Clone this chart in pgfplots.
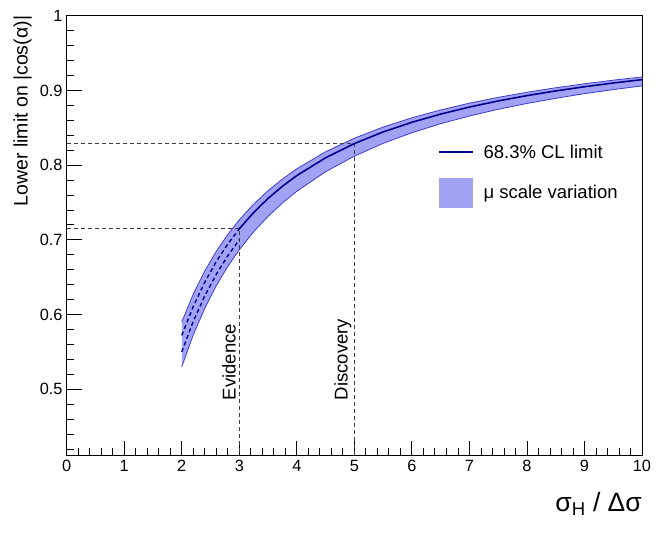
\documentclass[border=0pt]{standalone}
\usepackage{fontspec}
\setmainfont{Liberation Sans}
\usepackage{pgfplots}
\pgfplotsset{compat=1.18}
\definecolor{bandfill}{RGB}{162,162,245}
\definecolor{bandedge}{RGB}{60,60,210}
\definecolor{cline}{RGB}{0,0,140}
\definecolor{refgray}{RGB}{60,60,60}
\pgfplotsset{
  mylineleg/.style={legend image code/.code={\draw[draw=cline, line width=1.6pt, solid] (0pt,0pt) -- (34pt,0pt);}},
  myboxleg/.style={legend image code/.code={\path[fill=bandfill, draw=none] (0pt,-15pt) rectangle (34pt,15pt);}},
}
\begin{document}
\begin{tikzpicture}
\begin{axis}[
  scale only axis, width=575.3pt, height=440pt,
  at={(0,0)}, anchor=south west,
  xmin=0, xmax=10, ymin=0.411, ymax=1,
  xtick={0,1,2,3,4,5,6,7,8,9,10},
  ytick={0.5,0.6,0.7,0.8,0.9,1},
  minor xtick={0.2,0.4,...,9.9},
  minor ytick={0.42,0.44,...,0.99},
  tick pos=left, tick align=inside,
  major tick length=15pt, minor tick length=7.5pt,
  tick style={black, line width=0.8pt},
  axis line style={line width=0.8pt},
  /pgf/number format/assume math mode=true,
  yticklabel style={/pgf/number format/fixed, /pgf/number format/precision=1,
    font=\fontsize{16.3}{19}\selectfont, inner sep=0pt, xshift=-4pt},
  xticklabel style={font=\fontsize{16.3}{19}\selectfont, inner sep=0pt, yshift=-4pt},
  xlabel={σ\textsubscript{H} / Δσ},
  ylabel={Lower limit on |cos(α)|},
  every axis x label/.style={at={(axis description cs:1,-0.11)}, anchor=east,
    font=\fontsize{26.5}{29}\selectfont, inner sep=0pt},
  every axis y label/.style={at={(axis description cs:-0.0765,1)}, rotate=90, anchor=east,
    font=\fontsize{19.5}{22}\selectfont, inner sep=0pt},
  legend style={at={(axis description cs:0.645,0.712)}, anchor=north west,
    draw=none, fill=none, font=\fontsize{18.5}{22}\selectfont,
    row sep=16pt, inner sep=0pt, cells={anchor=west},
    /tikz/every even column/.append style={column sep=0pt}},
]
% band
\addplot[fill=bandfill, draw=none, forget plot] coordinates {
 (2,0.590) (2.2,0.6273) (2.4,0.6583) (2.6,0.6846) (2.8,0.7071) (3,0.7267)
 (3.25,0.7477) (3.5,0.7657) (3.75,0.7813) (4,0.795) (4.5,0.8178) (5,0.836)
 (5.5,0.8509) (6,0.8633) (6.5,0.8738) (7,0.8829) (7.5,0.8907) (8,0.8975)
 (8.5,0.9035) (9,0.9089) (9.5,0.9137) (10,0.918)
 (10,0.906) (9.5,0.9011) (9,0.8956) (8.5,0.8894) (8,0.8825) (7.5,0.8747)
 (7,0.8657) (6.5,0.8554) (6,0.8433) (5.5,0.8291) (5,0.812) (4.5,0.7911)
 (4,0.765) (3.75,0.7493) (3.5,0.7314) (3.25,0.7108) (3,0.6867) (2.8,0.6643)
 (2.6,0.6385) (2.4,0.6083) (2.2,0.5727) (2,0.530)
} -- cycle;
% band edges
\addplot[bandedge, line width=0.8pt, forget plot] coordinates {
 (2,0.590) (2.2,0.6273) (2.4,0.6583) (2.6,0.6846) (2.8,0.7071) (3,0.7267)
 (3.25,0.7477) (3.5,0.7657) (3.75,0.7813) (4,0.795) (4.5,0.8178) (5,0.836)
 (5.5,0.8509) (6,0.8633) (6.5,0.8738) (7,0.8829) (7.5,0.8907) (8,0.8975)
 (8.5,0.9035) (9,0.9089) (9.5,0.9137) (10,0.918)};
\addplot[bandedge, line width=0.8pt, forget plot] coordinates {
 (2,0.530) (2.2,0.5727) (2.4,0.6083) (2.6,0.6385) (2.8,0.6643) (3,0.6867)
 (3.25,0.7108) (3.5,0.7314) (3.75,0.7493) (4,0.765) (4.5,0.7911) (5,0.812)
 (5.5,0.8291) (6,0.8433) (6.5,0.8554) (7,0.8657) (7.5,0.8747) (8,0.8825)
 (8.5,0.8894) (9,0.8956) (9.5,0.9011) (10,0.906)};
% reference lines
\addplot[refgray, dash pattern=on 4pt off 3pt, line width=0.8pt, forget plot]
 coordinates {(0,0.7147) (3,0.7147) (3,0.411)};
\addplot[refgray, dash pattern=on 4pt off 3pt, line width=0.8pt, forget plot]
 coordinates {(0,0.8288) (5,0.8288) (5,0.411)};
% dashed parts
\addplot[cline, dash pattern=on 4pt off 3pt, line width=1.4pt, forget plot] coordinates {
 (2,0.572) (2.2,0.6109) (2.4,0.6433) (2.6,0.6708) (2.8,0.6943) (3,0.7147)};
\addplot[cline, dash pattern=on 4pt off 3pt, line width=1.4pt, forget plot] coordinates {
 (2,0.55) (2.2,0.5909) (2.4,0.625) (2.6,0.6538) (2.8,0.6786) (3,0.70)};
% central limit
\addplot[cline, line width=1.6pt, forget plot] coordinates {
 (3,0.7147) (3.25,0.7366) (3.5,0.7554) (3.75,0.7717) (4,0.786) (4.5,0.8098)
 (5,0.8288) (5.5,0.8444) (6,0.8573) (6.5,0.8683) (7,0.8777) (7.5,0.8859)
 (8,0.893) (8.5,0.8993) (9,0.9049) (9.5,0.9099) (10,0.9144)};
\addlegendimage{mylineleg}
\addlegendentry{\hspace{8pt}68.3\% CL limit}
\addlegendimage{myboxleg}
\addlegendentry{\hspace{8pt}μ scale variation}
\node[rotate=90, anchor=west, inner sep=0pt, font=\fontsize{18.5}{22}\selectfont]
  at (axis cs:2.82,0.485) {Evidence};
\node[rotate=90, anchor=west, inner sep=0pt, font=\fontsize{18.5}{22}\selectfont]
  at (axis cs:4.80,0.485) {Discovery};
\end{axis}
\pgfresetboundingbox
\useasboundingbox (-66.7pt,-81.3pt) rectangle (598.3pt,455.7pt);
\end{tikzpicture}
\end{document}
